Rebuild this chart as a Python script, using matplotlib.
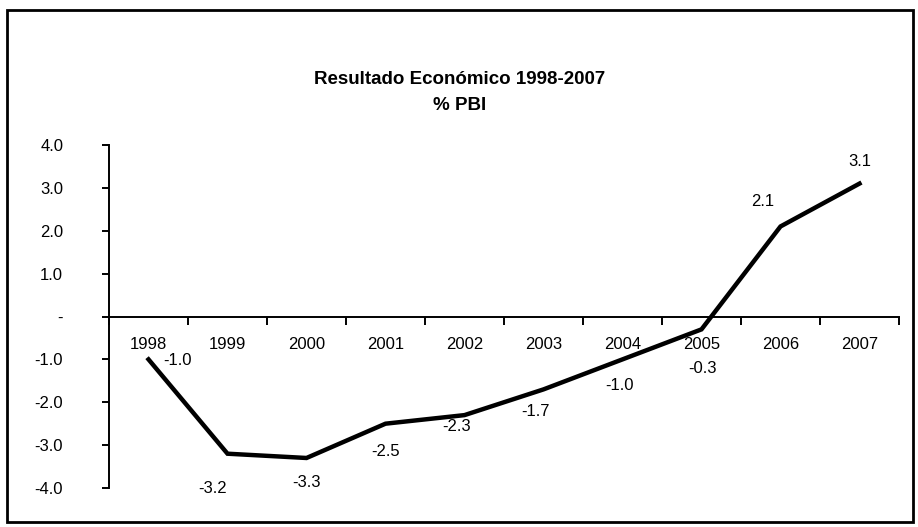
import matplotlib
matplotlib.use("Agg")
import matplotlib.pyplot as plt
from matplotlib.patches import Rectangle

years = ["1998", "1999", "2000", "2001", "2002", "2003", "2004", "2005", "2006", "2007"]
result = [-1.0, -3.2, -3.3, -2.5, -2.3, -1.7, -1.0, -0.3, 2.1, 3.1]
y_ticks = [-4.0, -3.0, -2.0, -1.0, 0.0, 1.0, 2.0, 3.0, 4.0]
y_labels = ["-4.0", "-3.0", "-2.0", "-1.0", "-", "1.0", "2.0", "3.0", "4.0"]

# label offsets (points) around each data point
label_offsets = [(21, -1), (-11, -25), (0, -18), (0, -20), (-6, -8),
                 (-6, -16), (-2, -19), (1, -28), (-13, 18), (0, 16)]

plt.rcParams["font.family"] = ["Liberation Sans", "DejaVu Sans"]

fig = plt.figure(figsize=(9.18, 5.27), dpi=100)
ax = fig.add_axes([109 / 918, 1 - 488 / 527, 790 / 918, 343 / 527])

x = list(range(len(years)))
ax.plot(x, result, color="black", lw=3.2, solid_joinstyle="miter")

for xi, v, (dx, dy) in zip(x, result, label_offsets):
    ax.annotate(f"{v:.1f}", (xi, v), xytext=(dx, dy), textcoords="offset points",
                ha="center", va="center", fontsize=12)

ax.set_xlim(-0.5, len(years) - 0.5)
ax.set_ylim(-4, 4)

for s in ["top", "right"]:
    ax.spines[s].set_visible(False)
ax.spines["bottom"].set_position(("data", 0))
ax.spines["bottom"].set_linewidth(1.4)
ax.spines["left"].set_linewidth(1.4)

ax.set_xticks(x)
ax.set_xticklabels(years, fontsize=12)
ax.set_xticks([i - 0.5 for i in range(len(years) + 1)], minor=True)
ax.tick_params(axis="x", which="major", length=0, pad=15)
ax.tick_params(axis="x", which="minor", length=6, width=1.4, direction="out")

ax.set_yticks(y_ticks)
ax.set_yticklabels(y_labels, fontsize=12)
ax.tick_params(axis="y", length=5, width=1.4, direction="out", pad=28)

fig.text(0.501, 1 - 80 / 527, "Resultado Económico 1998-2007", ha="center",
         va="center", fontsize=13.5, fontweight="bold")
fig.text(0.501, 1 - 106 / 527, "% PBI", ha="center", va="center",
         fontsize=13.5, fontweight="bold")

fig.patches.append(Rectangle((7 / 918, 1 - 522 / 527), 906 / 918, 512 / 527,
                             transform=fig.transFigure, fill=False,
                             edgecolor="black", lw=2))

fig.savefig("out.png", dpi=100)
